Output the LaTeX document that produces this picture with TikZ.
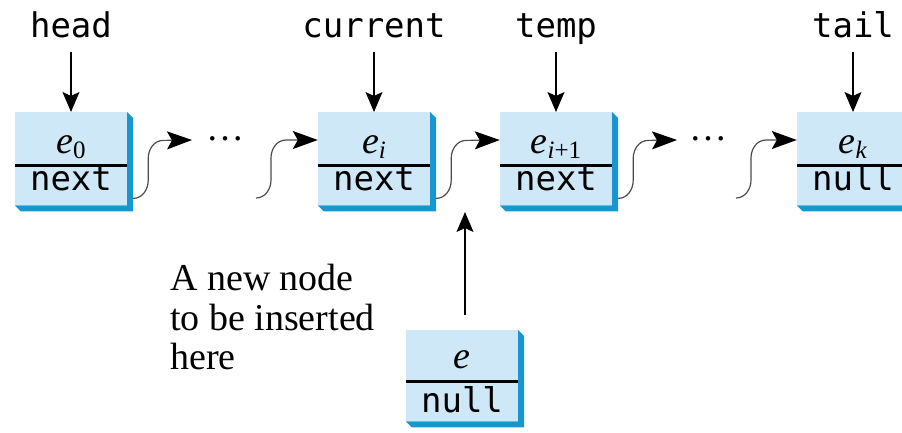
\documentclass[tikz,border=0pt]{standalone}
\usepackage{fontspec}
\setmainfont{Liberation Serif}
\setmonofont{DejaVu Sans Mono}
\usetikzlibrary{arrows.meta,calc}
\definecolor{boxfill}{HTML}{CFE8F7}
\definecolor{boxshade}{HTML}{1896CF}
\newcommand\esub[1]{\textit{e}\raisebox{-0.14em}{\fontsize{25}{25}\selectfont #1}}
% #1 name, #2 x centre, #3 top, #4 bottom, #5 divider, #6 top baseline, #7 bottom baseline, #8 top text, #9 bottom text
\newcommand\cellbox[9]{%
  \node[cell, minimum height={#4-#3}, anchor=north] (#1) at (#2,-#3) {};
  \fill[boxshade] (#1.north east) -- ++(6,-6) -- ([shift={(6,-6)}]#1.south east)
     -- ([shift={(6,-6)}]#1.south west) -- (#1.south west) -- (#1.south east) -- cycle;
  \draw[line width=3pt] (#1.west |- 0,-#5) -- (#1.east |- 0,-#5);
  \node[toptext, anchor=base] (#1-v) at (#2,-#6) {#8};
  \node[bottext, anchor=base] (#1-n) at (#2,-#7) {#9};
}
\begin{document}
\begin{tikzpicture}[x=1pt,y=1pt,
  cell/.style={rectangle, fill=boxfill, inner sep=0pt, minimum width=112pt},
  toptext/.style={font=\fontsize{38}{38}\selectfont, inner sep=0pt},
  bottext/.style={font=\ttfamily\fontsize{34}{34}\selectfont, inner sep=0pt},
  lbl/.style={font=\ttfamily\fontsize{34}{34}\selectfont, inner sep=0pt},
  dotsnode/.style={font=\fontsize{38}{38}\selectfont, inner sep=0pt},
  note/.style={font=\fontsize{38}{39.5}\selectfont, inner sep=0pt, align=left},
  ptr/.style={line width=1.1pt, -{Stealth[length=20pt,width=17pt,inset=4pt]}},
  conn/.style={line width=1.2pt, black!70, -{Stealth[length=25pt,width=18pt,inset=5pt,color=black]}}]
\useasboundingbox (0,0) rectangle (902,-432);

% list cells
\cellbox{e0}{71}{112}{205}{165}{153}{190}{\esub{0}}{next}
\cellbox{ei}{374}{112}{205}{165}{153}{190}{\esub{\textit{i}}}{next}
\cellbox{ei1}{556}{112}{205}{165}{153}{190}{\esub{\textit{i}+1}}{next}
\cellbox{ek}{853}{112}{205}{165}{153}{190}{\esub{\textit{k}}}{null}
\cellbox{e}{462}{330}{421}{381}{368}{412}{\textit{e}}{null}

% pointer labels
\node[lbl, anchor=base] (head) at (71,-37) {head};
\node[lbl, anchor=base] (current) at (374,-37) {current};
\node[lbl, anchor=base] (temp) at (556,-37) {temp};
\node[lbl, anchor=base] (tail) at (853,-37) {tail};
\foreach \p/\c in {head/e0, current/ei, temp/ei1, tail/ek}
  \draw[ptr] ([yshift=-15pt]\p.base) -- (\c.north);

% ellipses
\node[dotsnode, anchor=base] (dots1) at (225,-140) {…};
\node[dotsnode, anchor=base] (dots2) at (708,-140) {…};

% free connector ends
\coordinate (gap1out) at (192,-140);
\coordinate (gap1in) at (256,-198);
\coordinate (gap2out) at (677,-140);
\coordinate (gap2in) at (736,-198);

% next links
\draw[conn] ([shift={(6,7)}]e0.south east) to[out=0,in=-90] ++(15,18) -- ++(0,22) to[out=90,in=180] ++(15,18) -- (gap1out);
\draw[conn] (gap1in) to[out=0,in=-90] ++(15,18) -- ++(0,22) to[out=90,in=180] ++(15,18) -- ([yshift=-28pt]ei.north west);
\draw[conn] ([shift={(6,7)}]ei.south east) to[out=0,in=-90] ++(15,18) -- ++(0,22) to[out=90,in=180] ++(15,18) -- ([yshift=-28pt]ei1.north west);
\draw[conn] ([shift={(6,7)}]ei1.south east) to[out=0,in=-90] ++(15,18) -- ++(0,22) to[out=90,in=180] ++(15,18) -- (gap2out);
\draw[conn] (gap2in) to[out=0,in=-90] ++(15,18) -- ++(0,22) to[out=90,in=180] ++(15,18) -- ([yshift=-28pt]ek.north west);

% new node
\coordinate (ins) at (465,-212);
\draw[ptr] ([xshift=3pt,yshift=15pt]e.north) -- (ins);
\node[note, anchor=north west] (notetext) at (170,-264) {A new node\\to be inserted\\here};
\end{tikzpicture}
\end{document}
